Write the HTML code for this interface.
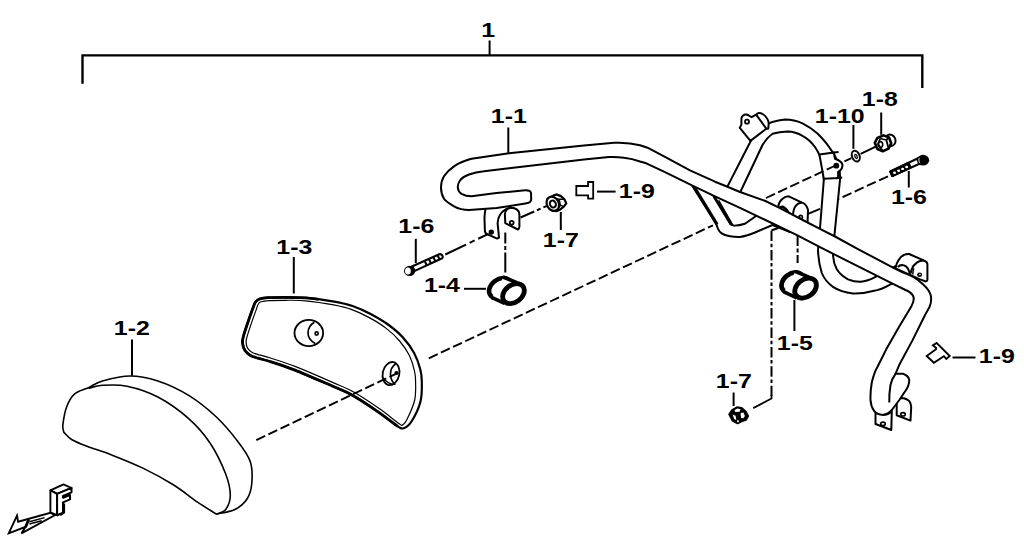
<!DOCTYPE html>
<html>
<head>
<meta charset="utf-8">
<title>Parts diagram</title>
<style>
html,body{margin:0;padding:0;background:#fff;}
body{width:1024px;height:552px;overflow:hidden;}
svg{display:block;}
.l{font-family:"Liberation Sans",Arial,Helvetica,sans-serif;font-weight:bold;font-size:19.6px;fill:#000;}
.s{fill:none;stroke:#000;stroke-width:2;stroke-linecap:butt;stroke-linejoin:round;}
.w{fill:#fff;stroke:#000;stroke-width:2;stroke-linejoin:round;}
.t{fill:none;stroke:#000;stroke-width:2;}
.d{fill:none;stroke:#000;stroke-width:1.9;stroke-dasharray:9.8 3.6;}
.dd{fill:none;stroke:#000;stroke-width:2;stroke-dasharray:10.5 2.7 3.5 2.7;}
</style>
</head>
<body>
<svg width="1024" height="552" viewBox="0 0 1024 552">
<rect x="0" y="0" width="1024" height="552" fill="#fff"/>

<!-- top bracket -->
<g id="bracket">
<path d="M82.5,83.8 V55.4 H922.3 V87.9" fill="none" stroke="#000" stroke-width="2.4" stroke-linejoin="miter"/>
<path d="M489.6,40.5 V55" class="t"/>
</g>


<!-- cushion 1-2 -->
<g id="cushion">
<path class="w" style="stroke-width:1.6" d="M63.9,432.4 C63.7,431.1 62.4,429.1 62.9,424.7 C63.4,420.3 64.9,411.3 66.9,406.2 C68.9,401.1 71.1,397.0 74.7,393.9 C78.3,390.8 83.9,389.8 88.5,387.7 C93.1,385.6 95.5,382.9 102.4,381.0 C109.3,379.1 120.8,376.0 130.1,376.0 C139.3,376.0 148.1,377.8 157.9,381.0 C167.7,384.2 178.9,389.4 188.7,395.4 C198.4,401.4 208.2,409.3 216.4,417.0 C224.6,424.7 232.3,434.2 238.0,441.7 C243.7,449.1 248.0,454.8 250.3,461.7 C252.6,468.6 252.3,477.1 251.8,483.3 C251.3,489.5 250.0,494.3 247.2,498.7 C244.4,503.1 240.0,506.9 234.9,509.5 C229.8,512.1 219.5,513.3 216.4,514.1  C213.3,512.1 205.1,507.3 197.9,502.4 C190.7,497.5 182.6,490.6 173.3,484.8 C164.1,479.1 152.7,472.9 142.4,467.9 C132.1,462.9 120.8,458.5 111.6,454.9 C102.4,451.3 93.7,448.9 87.0,446.3 C80.3,443.7 75.4,441.8 71.6,439.5 C67.8,437.2 65.2,433.6 63.9,432.4 Z"/>
<path class="s" style="stroke-width:1.6" d="M88.5,388.3 C90.8,387.8 96.0,385.7 102.4,385.3 C108.8,384.9 117.8,384.2 127.0,386.2 C136.2,388.1 147.6,391.6 157.9,397.0 C168.2,402.4 180.0,410.9 188.7,418.6 C197.4,426.3 204.0,434.0 210.2,443.2 C216.4,452.4 222.3,465.3 225.7,474.0 C229.0,482.7 230.3,489.7 230.3,495.6 C230.3,501.5 228.0,506.4 225.7,509.5 C223.4,512.6 217.9,513.3 216.4,514.1"/>
</g>

<!-- plate 1-3 -->
<g id="plate">
<path d="M242.5,343.0 C242.2,340.6 242.6,339.5 243.5,336.0 C244.4,332.5 246.5,326.4 248.0,322.0 C249.5,317.6 251.2,312.6 252.5,309.3 C253.8,306.0 254.2,303.8 255.5,302.0 C256.8,300.2 257.9,299.5 260.0,298.8 C262.1,298.1 263.8,297.9 268.0,297.6 C272.2,297.4 278.7,297.3 285.0,297.3 C291.3,297.3 297.8,297.1 306.0,297.8 C314.2,298.5 326.6,300.2 334.3,301.6 C342.1,303.0 346.4,303.9 352.5,306.0 C358.6,308.1 364.6,310.8 370.6,314.0 C376.6,317.2 383.3,321.0 388.7,325.0 C394.1,329.0 399.0,333.1 403.2,337.8 C407.4,342.5 411.3,347.8 414.1,353.0 C416.9,358.2 418.9,364.2 420.2,369.0 C421.5,373.8 421.8,376.1 421.8,381.5 C421.9,386.9 422.2,394.8 420.5,401.5 C418.8,408.2 414.3,417.1 411.5,421.5 C408.7,425.9 406.0,427.5 403.6,428.2 C401.2,428.9 401.3,428.6 397.0,425.8 C392.7,423.0 385.1,416.7 377.7,411.6 C370.3,406.5 360.2,399.7 352.4,395.3 C344.5,390.9 340.3,389.5 330.6,385.3 C320.9,381.1 304.5,373.9 294.4,369.9 C284.3,365.9 276.1,363.4 270.0,361.5 C263.9,359.6 261.4,359.2 258.1,358.2 C254.9,357.2 252.7,356.8 250.5,355.5 C248.3,354.2 246.3,352.6 245.0,350.5 C243.7,348.4 242.8,345.4 242.5,343.0 Z" fill="#fff" stroke="#000" stroke-width="2.2" stroke-linejoin="round"/>
<path d="M246.1,342.6 C245.9,340.7 246.1,340.2 247.0,336.9 C247.9,333.7 249.9,327.5 251.4,323.1 C252.9,318.8 254.7,313.8 255.9,310.6 C257.0,307.4 257.4,305.4 258.3,304.0 C259.1,302.5 259.4,302.4 261.1,301.8 C262.7,301.3 264.2,300.8 268.2,300.6 C272.2,300.3 278.7,300.3 285.0,300.3 C291.2,300.3 297.6,300.0 305.7,300.8 C313.9,301.6 326.1,303.5 333.7,304.9 C341.3,306.4 345.5,307.3 351.3,309.4 C357.2,311.5 363.0,314.2 368.8,317.4 C374.6,320.5 381.1,324.4 386.2,328.4 C391.4,332.3 395.8,336.5 399.6,341.0 C403.5,345.6 406.9,350.7 409.4,355.6 C411.8,360.5 413.4,366.2 414.4,370.6 C415.4,374.9 415.6,376.7 415.6,381.6 C415.6,386.5 416.1,393.8 414.7,400.0 C413.3,406.2 409.3,414.7 407.3,418.8 C405.3,423.0 404.1,424.2 402.6,424.9 C401.2,425.7 402.5,426.0 398.6,423.3 C394.8,420.6 387.0,414.0 379.6,408.8 C372.2,403.6 362.0,396.7 354.1,392.2 C346.2,387.8 341.7,386.4 332.0,382.1 C322.3,377.8 305.8,370.6 295.7,366.6 C285.5,362.7 277.2,360.1 271.1,358.2 C265.0,356.2 262.3,355.8 259.1,354.9 C256.0,353.9 254.1,353.5 252.3,352.5 C250.4,351.4 249.0,350.3 247.9,348.6 C246.9,347.0 246.2,344.6 246.1,342.6 Z" fill="none" stroke="#000" stroke-width="1.2"/>
<path d="M318.0,299.2 C316.0,299.0 311.5,298.1 306.0,297.8 C300.5,297.5 291.3,297.3 285.0,297.3 C278.7,297.3 272.2,297.4 268.0,297.6 C263.8,297.9 262.1,298.1 260.0,298.8 C257.9,299.5 256.8,300.2 255.5,302.0 C254.2,303.8 253.8,306.0 252.5,309.3 C251.2,312.6 249.5,317.6 248.0,322.0 C246.5,326.4 244.4,332.5 243.5,336.0 C242.6,339.5 242.2,340.6 242.5,343.0 C242.8,345.4 243.7,348.4 245.0,350.5 C246.3,352.6 248.3,354.2 250.5,355.5 C252.7,356.8 254.9,357.2 258.1,358.2 C261.4,359.2 263.9,359.6 270.0,361.5 C276.1,363.4 284.3,365.9 294.4,369.9 C304.5,373.9 320.9,381.1 330.6,385.3 C340.3,389.5 344.5,390.9 352.4,395.3 C360.2,399.7 370.3,406.5 377.7,411.6 C385.1,416.7 393.8,423.4 397.0,425.8" fill="none" stroke="#000" stroke-width="2.8" stroke-linecap="round"/>
<!-- hole 1 -->
<ellipse cx="308.8" cy="333" rx="14.3" ry="13.1" class="s" style="stroke-width:1.8"/>
<path d="M314.3,322.3 C310,325 308,329 308,332.8 C308,337 310.5,341 315.2,343.6" class="s" style="stroke-width:1.7"/>
<circle cx="316.6" cy="333.5" r="1.6" class="s" style="stroke-width:1.6"/>
<!-- hole 2 -->
<ellipse cx="391" cy="373.6" rx="8.3" ry="11.7" transform="rotate(12 391 373.6)" fill="#fff" stroke="#000" stroke-width="1.8"/>
<path d="M396,363.5 C392.5,366 390.5,370 390.5,374 C390.5,378 392,381.5 394.5,384" class="s" style="stroke-width:1.6"/>
<path d="M384,379 C387,382.5 391,384.5 395.5,384.5" class="s" style="stroke-width:1.2"/>
<circle cx="396.5" cy="373" r="2.1" fill="#000"/>
</g>

<!-- lower rail (left, behind main tube) -->
<g id="lowerrail">
<path class="w" d="M692.5,186.3 L716.3,223.8 C717.5,228.8 719,231.5 721.3,233.1 C724,235 727,236 730,236.3 C733.5,236.8 737,237 740,236.9 C745,236.3 750,234.5 755,232.5 L772.5,225 L790,232 L757.5,215 L745,223.8 C741,225 737.5,225.8 733.8,225.6 C732.5,225.4 731.5,225 731,224.5 L714,196.3 L700,186 Z"/>
<path d="M693.3,185.5 L717,224.3" fill="none" stroke="#000" stroke-width="3.2"/>
<path d="M714,196.5 L731,224.6" fill="none" stroke="#000" stroke-width="2.6"/>
<path d="M718.6,200.4 L732.6,224.8" fill="none" stroke="#000" stroke-width="1.6"/>
</g>

<!-- arch (back loop) + right leg + U bend -->
<g id="arch">
<path class="w" d="M724.8,191.6 L750,142.5 C753,136 757,130 762,127 C768,123 776,120.5 785,119.5 C791,119.5 797,120.8 802.5,123.3 C808,126 813,129.5 817.5,133.5 C822,138 826.5,143 830,148.3 C834,153.5 837,159 838.5,165 C840,170 840.3,175 840,180 L834.4,235.6 L833,255.5 C833.3,260.5 834.5,265 836.8,269.3 C839.5,273.5 843.5,277 848,279.3 C852,281 856,281.9 860.5,281.8 C865.5,281.3 870.5,279.5 875.5,276.8 L896,266 L905,279 L890.5,284.3 C885,287.5 879,290 873,291 C866,292.8 859,293.8 853,293.5 C845,292.5 838.5,290.5 833,286.8 C827.5,283 824,278.5 821.8,273 C819.5,266 818.3,258 818,250.5 L820,228.1 L823.8,180 C823.8,172 822.5,164 820,156.3 C818.5,152.8 816.8,149.5 815,147 C811.5,142.3 807.5,138.3 802.5,135.8 C798,133 793,131.5 787.5,131.4 C782,131.5 777,132.3 772.5,133.8 C768,137 765,141 762.5,145 L737.5,198 Z"/>
<!-- clamp -->
<path class="w" d="M819.4,154.4 L833.8,152.6 L835,158.8 C837,159.5 838.8,160.3 840,161.3 C841.8,162.5 842.6,164 842.5,165.6 C842.3,167.5 841.6,169 840.6,170 C839.8,170.9 839,171.5 838.1,171.9 L838.1,178 L823.8,178.8 Z"/>
<path class="t" d="M832,152.8 L838.5,152.1 M836,178.2 L842.2,177.6" />
<circle cx="836.3" cy="165.7" r="2.9" fill="#000"/>
<!-- top tab -->
<path class="w" d="M739.8,127.8 L741.4,124.6 L741.4,118.9 C741.6,117 742.2,116 743,115.6 C744,114.8 745,114.5 746.3,114.6 C747.5,114.8 748.6,115.3 749.6,116 L751.6,117.2 L756.1,114.6 C757,113.8 757.8,113.3 758.5,113.1 C760,113 761.4,113.3 762.6,114 C764.4,115 765.8,116.4 766.7,118 C767.7,119.4 768.3,121 768.7,122.5 L768.3,128.6 L765.9,129 L750.4,140.9 Z"/>
<path class="t" d="M756.1,114.6 L766.5,128.8"/>
<circle cx="747" cy="121.7" r="2" class="s" style="stroke-width:1.8"/>
</g>

<!-- middle bracket -->
<g id="midbracket">
<path class="w" d="M778.1,208 C778.5,203.5 780,200.5 782.5,198.8 C784.5,197 786.5,196.3 788.8,196.3 L802,202.6 C805,203.5 807,206 808,210 L807.5,224 L778.1,210 Z"/>
<path class="s" d="M793,215 C793.3,211 794,208.5 795,207 C796.5,204.5 799,203 802,202.6"/>
<path d="M780.4,207.3 C782,206.6 783.4,207 784.4,207.9 C786.3,209.2 787.5,211 788.4,212.7 C789.6,214 791.2,214.8 793.1,215.2" fill="none" stroke="#000" stroke-width="2.6" stroke-linecap="round"/>
<ellipse cx="800.7" cy="217.2" rx="2.5" ry="2.6" fill="#000"/>
<circle cx="800.9" cy="217" r="0.8" fill="#fff"/>
<path class="t" d="M808,213.8 L820,208.8"/>
</g>

<!-- right bracket near bend -->
<g id="rightbracket">
<path class="w" d="M895.6,268.5 C896,264 897.5,261.5 898.7,259.9 C900,257.5 901.5,256 903.5,255.2 C905.5,254.2 907.3,253.9 909.1,254 L924.2,260.7 C926,261.3 927.2,262.5 927.4,263.9 L927.4,279.9 C927.2,281 926.6,281.5 925.8,281.5 L919.5,279.1 L895.6,268.5 Z"/>
<path class="s" d="M910.7,273.5 C910.9,271 911.4,269.5 912.3,267.9 C913.3,265.8 914.6,264.3 916.3,263.1 C917.6,262 918.9,261.4 920.3,261.1 C921.6,260.7 923,260.5 924.2,260.7"/>
<path class="s" d="M912.9,274.5 C912.8,272 913.1,270 913.7,268.3" style="stroke-width:1.5"/>
<path class="s" d="M898,267.1 C899,265.8 900.4,265.1 901.9,265.1 C903.4,265.2 904.8,265.6 905.9,266.3 C907.4,267.6 908.5,269.3 909.1,271.1 C909.6,272.4 909.8,273.7 909.9,275.1"/>
<ellipse cx="919.6" cy="274.8" rx="2.5" ry="2.3" fill="#000"/>
<circle cx="919.9" cy="274.6" r="0.8" fill="#fff"/>
</g>

<!-- bottom tabs -->
<g id="bottomtabs">
<path class="w" d="M896.7,399.7 C897.5,398.5 899.3,397.9 901.2,397.9 C904.5,398.1 907.5,399.2 909.3,401.2 C910.5,402.8 911.1,404.8 911.2,407 L910.5,420.6 L896.7,415.2 Z"/>
<ellipse cx="903" cy="414.3" rx="2.3" ry="1.7" class="s" style="stroke-width:1.7"/>
</g>

<!-- left bracket under U -->
<g id="leftbracket">
<path class="w" d="M486.3,205 C484.8,212 484.4,215 484.5,218.6 L484.9,231.3 C485.2,232.8 485.9,233.6 486.8,234 L497.2,238.6 L499,237.7 L497.6,223.2 C497.8,219.5 498.6,217 499.9,215 C501.3,212.6 503.2,210.8 505.3,209.6 C507,208.5 508.9,207.9 510.8,207.8 L508,202 Z"/>
<circle cx="491.3" cy="232.1" r="2.7" fill="#000"/>
<path class="w" d="M505.3,223.2 L504.9,214.1 C505.1,211.5 507,208.5 510.8,207.8 C513.5,207.8 515.6,208.4 517.1,209.6 C518.6,210.8 519.3,212.3 519.4,214.1 L519.4,226.8 C519.3,228.2 518.8,229.1 518,229.5 Z"/>
<circle cx="511.7" cy="222.7" r="1.9" fill="#fff" stroke="#000" stroke-width="1.8"/>
</g>

<!-- main tube 1-1 -->
<g id="maintube">
<path class="w" d="M525.3,190.3 C528.5,190.2 530.6,191.2 531,193 L531.2,199.3 C531,201.6 529.2,202.9 526.5,203.3 L524,203.7 L496.5,208 L469,210 C463,210 458,208.5 454,206.3 C449,203.5 445.5,201 444,198.8 C442,195.5 441,191.5 441,187.5 C441,183.5 442,179.5 444,176.3 C446.5,172.3 450,169 454,166.3 C459,163 465,160.5 471.5,158.8 L509,153.3 L584,145.6 L614,142.8 C623,142.3 632,143.1 640,145.3 L647.5,147.7 L665,156.9 L690,170.3 L715,181.7 L727.5,186.8 L740,192 L765.4,201 L778,207.2 L808.5,223 L820,228.8 L835,236.5 L857.5,248.8 L893,267.7 L903,272.6 C911,275 918,279.5 923,284.3 C927,288 929.8,291.3 930.8,295.5 C931.5,299.5 931.1,303.5 929.5,307 L925.2,314.8 L912.2,340.9 L899.3,364.8 L895.5,373.8 L903,373.8 C906.5,375 908.8,377.3 909.3,380 C909.3,384.5 907.5,388.5 904.3,392.5 L899.3,400 L891.8,410 C889.5,412.8 886.5,414.5 883,415 C879.5,415 876.5,413.5 874.3,411.3 C872,408 870.7,404.5 870.5,400 C870.3,394 870.8,388 871.8,382.5 C873.2,376.5 874.8,371.5 877.4,367 L886.1,349.6 L899.1,326.7 L911.3,306.6 C912.8,303.8 913.8,301 913.8,298.6 C913.6,296 912.2,294 910,292.4 C908.5,291.4 907,290.6 905.5,290 L893,283.9 L820,247.2 L797,235.2 L771.7,223 L740,207.8 L715,196.3 L692.5,185.6 L665,172.2 L646.3,163.3 L640,161.5 C635,159.6 630,158.3 624,157.7 C619,157 614,156.8 609,157 L584,159.6 L509,168.2 L484,171.3 C478,171.8 473,173 469,174.5 C465,176 462,178 460.3,180 C458.5,182.5 457.6,185 457.8,187.5 C458,190.5 459.5,192.5 461.5,193.8 C464.5,195.5 468,196.3 471.5,196.3 L496.5,193 Z"/>
<!-- bottom hook inner -->
<path class="s" d="M895.5,373.8 C892.8,377.5 891.3,381 890.5,385 C889.5,391 889,397 889.3,402.5"/>
<path class="w" d="M875.5,413 L875.5,424 L891.3,430 L891.8,411 C889.5,413.5 886.5,415 883,415 C880,415 877.5,414.2 875.5,413 Z"/>
<ellipse cx="883" cy="423.8" rx="2.3" ry="1.7" class="s" style="stroke-width:1.7"/>
</g>



<!-- axes -->
<g id="axes">
<path d="M256.3,440.1 L396,373.8" class="d"/>
<path d="M428.8,358.3 L713,225.3" class="d"/>
<path d="M766,198 L835.5,165.5" class="d"/>
<path d="M844.4,161.3 L851.3,158.1" class="t"/>
<path d="M860.6,153.8 L876.3,146.3" class="t"/>
<!-- right bolt axis -->
<path d="M888,176.3 L838,199.2" class="d"/>
<!-- left bolt axis -->
<path d="M445.3,254.5 L488.5,233.8" class="dd" style="stroke-dasharray:23 4 5.5 4 12 100"/>
<path d="M520.5,217.5 L549,205" class="dd" style="stroke-dasharray:15 3 4 3 8 100"/>
<!-- vertical axes -->
<path d="M505.3,232.5 V272.5" class="dd" style="stroke-dasharray:11 2.5 4 2.5 20 100"/>
<path d="M797.6,235 V263" class="dd" style="stroke-dasharray:11 2.5 4 2.5 8 100"/>
<path d="M771.5,230.5 V396" class="dd"/>
<path d="M778.5,228 L771.6,230.3" class="t"/>
<path d="M771.5,395 V398.5 L753.2,408.1" class="t" style="stroke-width:1.8;stroke-linejoin:miter"/>
</g>

<!-- bolt 1-6 left -->
<g id="boltL">
<path class="w" d="M411.9,266.5 L439.3,254.2 C441,253.8 442.3,254.8 442.6,256.2 C442.8,257.2 442.6,257.8 442.2,258.2 L414.8,270.9 Z" style="stroke-width:2.1"/>
<path class="t" d="M424.6,260.9 L426.7,265.3 M428.9,259 L431,263.4 M433.3,257 L435.4,261.4 M437.5,255.1 L439.6,259.5" style="stroke-width:2.1"/>
<ellipse cx="409.6" cy="270.9" rx="5.6" ry="5.2" fill="#000"/>
<ellipse cx="407.9" cy="271" rx="2.9" ry="3.5" fill="#fff"/>
</g>
<!-- bolt 1-6 right -->
<g id="boltR">
<path class="w" d="M918.5,158 L890.3,171.6 L892.3,176 L921.2,163 Z" style="stroke-width:2.1"/>
<path d="M908.6,162.8 L890.3,171.6 L892.3,176 L910.5,167.5 Z" fill="#000" stroke="#000" stroke-width="2.2" stroke-linejoin="round"/>
<ellipse cx="894.5" cy="172.7" rx="1.5" ry="1.2" fill="#fff"/>
<ellipse cx="898.6" cy="170.8" rx="1.5" ry="1.2" fill="#fff"/>
<ellipse cx="902.6" cy="168.9" rx="1.5" ry="1.2" fill="#fff"/>
<ellipse cx="906.6" cy="167" rx="1.5" ry="1.2" fill="#fff"/>
<ellipse cx="923" cy="160.2" rx="6.2" ry="5.4" fill="#000"/>
<path d="M919.3,158.2 C918.6,159.6 918.8,161.4 919.8,162.8" fill="none" stroke="#fff" stroke-width="1"/>
</g>

<!-- nut 1-7 upper -->
<g id="nutU">
<path class="w" d="M547.5,199 L553.4,195.6 L556.3,194.4 L560.9,196.1 L564.4,199.3 L566.3,203.4 L563.8,206.6 L560.3,209.4 L556.3,211.2 L549,208 Z" style="stroke-width:2.2"/>
<path class="s" d="M554.6,198.5 L559.2,199.3 L564.4,199.3 M559.2,199.3 L560.3,205.1 L563.8,206.6 M560.3,205.1 L557.5,210" style="stroke-width:1.5"/>
<ellipse cx="552.8" cy="203.8" rx="7.4" ry="5.9" transform="rotate(62 552.8 203.8)" class="w" style="stroke-width:2.2"/>
<ellipse cx="552.9" cy="204" rx="3.6" ry="2.9" transform="rotate(62 552.9 204)" class="w" style="stroke-width:2"/>
</g>
<!-- nut 1-7 lower -->
<g id="nutL">
<path d="M729.1,414.3 L732,410 L736.9,407.1 L741.5,407.7 L746,411.7 L748.3,416.2 L746,420.1 L742.1,421.3 L737.6,423.5 L732.4,420.8 Z" fill="#000" stroke="#000" stroke-width="1.6" stroke-linejoin="round"/>
<path d="M734.4,410.3 L737.4,408.6 L740.6,409.2 L739.6,411.8 L735.4,412 Z" fill="#fff"/>
<path d="M740.6,413 L743.4,412.4 L744.9,416 L743.4,418.3 L741,417.9 Z" fill="#fff"/>
<path d="M732.6,414.6 L735.6,415.8 L736.3,419.8 L734.3,419.2 Z" fill="#fff"/>
<path d="M736.8,420.6 L738.6,420.1 L738.8,422 L737.4,422.5 Z" fill="#fff"/>
</g>

<!-- cap nut 1-8 -->
<g id="capnut">
<ellipse cx="890.2" cy="140.3" rx="5.3" ry="5.8" transform="rotate(-25 890.2 140.3)" class="w" style="stroke-width:2"/>
<path class="w" d="M874.8,142.8 L877.3,138 L883.5,135.4 L889,137.4 L891.2,143.3 L888.6,148.6 L882.8,151.2 L877.4,149 Z" style="stroke-width:2.6"/>
<path class="s" d="M880.3,138.5 L886.3,140 L888.6,148.6 M886.3,140 L889,137.4 M880.3,138.5 L878,144 L882.8,151.2" style="stroke-width:1.8"/>
<ellipse cx="880.5" cy="144.6" rx="2.2" ry="3" class="s" style="stroke-width:1.6"/>
</g>

<!-- washer 1-10 -->
<g id="washer">
<ellipse cx="855.9" cy="156.1" rx="3.7" ry="5.6" transform="rotate(-22 855.9 156.3)" class="w" style="stroke-width:2"/>
<ellipse cx="856.1" cy="156.4" rx="1.1" ry="2.2" transform="rotate(-22 856.2 156.6)" class="w" style="stroke-width:1.3"/>
</g>

<!-- bushing 1-4 -->
<g id="bush4">
<ellipse cx="499.9" cy="288" rx="12" ry="8.6" transform="rotate(-38 499.9 288)" class="w" style="stroke-width:4.6"/>
<path d="M503.5,277.3 L517.3,282.9 L504.6,303.6 L491.8,297.7 Z" fill="#fff" stroke="none"/>
<path d="M503,277 L517,282.7 M491.6,297.3 L504.6,303.4" class="t" style="stroke-width:3.6"/>
<ellipse cx="513.5" cy="293.6" rx="12" ry="8.6" transform="rotate(-38 513.5 293.6)" class="w" style="stroke-width:4.8"/>
</g>
<!-- bushing 1-5 -->
<g id="bush5">
<ellipse cx="792.3" cy="282.4" rx="12" ry="8.6" transform="rotate(-38 792.3 282.4)" class="w" style="stroke-width:4.6"/>
<path d="M795.5,271.5 L809.3,277.3 L796.6,298 L783.8,292 Z" fill="#fff" stroke="none"/>
<path d="M795,271.3 L809,277.2 M783.6,291.7 L796.6,297.8" class="t" style="stroke-width:3.6"/>
<ellipse cx="805.6" cy="288.2" rx="12" ry="8.6" transform="rotate(-38 805.6 288.2)" class="w" style="stroke-width:4.8"/>
</g>

<!-- clip 1-9 upper -->
<path d="M588.1,186 H576.3 V195.3 H588.1 V198.7 H593.2 V182 H588.1 Z" class="w" style="stroke-width:1.8;stroke-linejoin:miter"/>
<!-- clip 1-9 lower -->
<path d="M926.7,356 L936,349.2 L936.2,348 L932.9,345.4 L936.6,342.9 L949.7,356 L946.3,358.9 L943.9,356.2 L933.9,362.8 Z" class="w" style="stroke-width:1.9;stroke-linejoin:miter"/>

<!-- leaders -->
<g id="leaders" class="t">
<path d="M508.3,127.5 V152.8"/>
<path d="M293.8,257 V293.5"/>
<path d="M132,339.5 V375.8"/>
<path d="M415.8,238.8 V263"/>
<path d="M464,288.8 H486"/>
<path d="M560.8,212 V230"/>
<path d="M597,191.6 H615.6"/>
<path d="M853.4,125 V148.8"/>
<path d="M881.2,112.5 V134.8"/>
<path d="M908.8,171 V187.5"/>
<path d="M794.4,300 V331"/>
<path d="M733.6,392.5 V406"/>
<path d="M952.5,357.5 H975.5"/>
</g>

<!-- labels -->
<g id="labels" class="l">
<text transform="translate(481.3,37) scale(1.27,1)">1</text>
<text transform="translate(490.8,122.5) scale(1.27,1)">1-1</text>
<text transform="translate(113.8,335) scale(1.27,1)">1-2</text>
<text transform="translate(276.3,253.8) scale(1.27,1)">1-3</text>
<text transform="translate(424,292.2) scale(1.27,1)">1-4</text>
<text transform="translate(776.8,349.6) scale(1.27,1)">1-5</text>
<text transform="translate(398.3,233.2) scale(1.27,1)">1-6</text>
<text transform="translate(891,203.8) scale(1.27,1)">1-6</text>
<text transform="translate(542.8,247) scale(1.27,1)">1-7</text>
<text transform="translate(715.8,388) scale(1.27,1)">1-7</text>
<text transform="translate(861.8,106.3) scale(1.27,1)">1-8</text>
<text transform="translate(618.8,198.2) scale(1.27,1)">1-9</text>
<text transform="translate(978.8,362.6) scale(1.27,1)">1-9</text>
<text transform="translate(814.8,122.6) scale(1.27,1)">1-10</text>
</g>

<!-- F arrow -->
<g id="farrow">
<path d="M8.7,533.3 L17,515.6 L18.1,521.7 L50.4,512.8 L54.7,515.3 L21.4,533.3 L25.7,526.8 Z" class="w" style="stroke-width:1.9;stroke-linejoin:miter"/>
<path d="M28.8,519.2 L25.5,527.2" class="s" style="stroke-width:2.8"/>
<path d="M29.4,521.7 L44.6,517.6 M29.4,524 L41.7,520.8" class="s" style="stroke-width:1.5"/>
<path d="M50.4,490.4 L63.5,484.4 L71.5,488 L57.1,493.9 Z" class="w" style="stroke-width:1.9"/>
<path d="M50.4,490.4 L57.1,493.9 L57.1,515.2 L50.4,512.4 Z" class="w" style="stroke-width:1.9"/>
<path d="M57.1,493.9 L71.5,487.9 L71.5,492.3 L63,495.9 L63,497.7 L70,495 L70,499.4 L63,502.3 L63,512.8 L57.1,515.2 Z" class="w" style="stroke-width:2"/>
<path d="M64,503.5 L64,512.5 L60,515" class="s" style="stroke-width:2.2"/>
</g>

</svg>
</body>
</html>
